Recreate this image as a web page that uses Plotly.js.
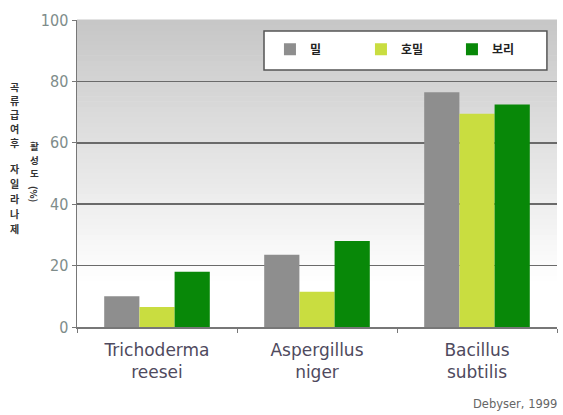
<!DOCTYPE html>
<html>
<head>
<meta charset="utf-8">
<script src="https://cdn.plot.ly/plotly-3.0.1.min.js"></script>
<style>
  html, body { margin: 0; padding: 0; background: #ffffff; }
  #chart { width: 563px; height: 415px; }
</style>
</head>
<body>
<div id="chart"></div>
<script>
// Xylanase activity after grain feeding, by microorganism
const organisms = ['Trichoderma<br>reesei', 'Aspergillus<br>niger', 'Bacillus<br>subtilis'];
const seriesNames = ['밀', '호밀', '보리'];
const wheatValues = [10, 23.5, 76.5];
const ryeValues = [6.5, 11.5, 69.5];
const barleyValues = [18, 28, 72.5];
const yTicks = [0, 20, 40, 60, 80, 100];
const seriesColors = ['#8e8e8e', '#c9dd40', '#088808'];
const titleLineA = ['곡', '류', '급', '여', '후'];
const titleLineB = ['자', '일', '라', '나', '제'];
const titleLineC = ['활', '성', '도'];

const values = [wheatValues, ryeValues, barleyValues];
const traces = seriesNames.map((name, i) => ({
  type: 'bar',
  name: name,
  x: organisms,
  y: values[i],
  marker: { color: seriesColors[i], line: { width: 0 } },
  hoverinfo: 'skip'
}));

// Vertical grey-to-white wash behind the plot area, built from thin bands
const shapes = [];
const bands = 60;
for (let k = 0; k < bands; k++) {
  const y0 = k / bands, y1 = (k + 1) / bands;
  const mid = (y0 + y1) / 2;
  let t = (mid - 0.15) / (1 - 0.15);
  t = Math.max(0, Math.min(1, t));
  const v = Math.round(255 - t * (255 - 198));
  shapes.push({
    type: 'rect', xref: 'x domain', yref: 'y domain',
    x0: 0, x1: 1, y0: y0, y1: y1 + 0.002,
    fillcolor: `rgb(${v},${v},${v})`, line: { width: 0 }, layer: 'below'
  });
}
// Framed white panel that holds the legend entries
shapes.push({
  type: 'rect', xref: 'paper', yref: 'paper',
  x0: 0.3896, x1: 0.979, y0: 0.837, y1: 0.964,
  fillcolor: '#ffffff', line: { color: '#555555', width: 1.5 }, layer: 'above'
});

// Upright Korean axis title: one glyph per annotation, stacked in columns
const W = 563, H = 415, ML = 77, MT = 20, PW = 480, PH = 307;
const px2x = (px) => (px - ML) / PW;
const py2y = (py) => (MT + PH - py) / PH;
const glyph = (ch, px, py, size, extra) => Object.assign({
  xref: 'paper', yref: 'paper', x: px2x(px), y: py2y(py),
  xanchor: 'center', yanchor: 'middle', showarrow: false,
  text: ch,
  font: { family: 'Noto Sans CJK KR', size: size, color: '#333333', weight: 'bold' }
}, extra || {});

const annotations = [];
titleLineA.forEach((ch, i) => annotations.push(glyph(ch, 14, 86 + 14 * i, 10)));
titleLineB.forEach((ch, i) => annotations.push(glyph(ch, 14, 168 + 15 * i, 10)));
titleLineC.forEach((ch, i) => annotations.push(glyph(ch, 34, 146 + 13.5 * i, 9.5)));
annotations.push(glyph('(%)', 34, 194, 9.5, { textangle: 90 }));
annotations.push({
  xref: 'paper', yref: 'paper', x: 1.005, y: -0.251,
  xanchor: 'right', yanchor: 'middle', showarrow: false,
  text: 'Debyser, 1999',
  font: { family: 'DejaVu Sans', size: 11.5, color: '#666666' }
});

const layout = {
  width: W,
  height: H,
  margin: { l: ML, r: W - ML - PW, t: MT, b: H - MT - PH },
  paper_bgcolor: '#ffffff',
  plot_bgcolor: 'rgba(0,0,0,0)',
  barmode: 'group',
  bargap: 0.34,
  bargroupgap: 0,
  showlegend: true,
  legend: {
    orientation: 'h',
    x: 0.402, y: 0.952, xanchor: 'left', yanchor: 'top',
    bgcolor: 'rgba(0,0,0,0)',
    borderwidth: 0,
    entrywidth: 46,
    traceorder: 'normal',
    font: { family: 'Noto Sans CJK KR', size: 12, color: '#222222', weight: 'bold' },
    itemclick: false
  },
  xaxis: {
    type: 'category',
    tickson: 'boundaries',
    ticks: 'outside',
    ticklen: 4,
    tickcolor: '#777777',
    showline: true,
    linecolor: '#777777',
    linewidth: 1.5,
    showgrid: false,
    ticklabelstandoff: 7,
    tickfont: { family: 'DejaVu Sans', size: 17, color: '#4f4a5e' },
    fixedrange: true
  },
  yaxis: {
    range: [0, 100],
    tickvals: yTicks,
    ticks: 'outside',
    ticklen: 4,
    tickcolor: '#777777',
    showline: true,
    linecolor: '#777777',
    linewidth: 1.5,
    showgrid: true,
    gridcolor: '#6a6a6a',
    gridwidth: 1.5,
    zeroline: false,
    tickfont: { family: 'DejaVu Sans Condensed', size: 16, color: '#7e8c8a' },
    fixedrange: true
  },
  shapes: shapes,
  annotations: annotations
};

Plotly.newPlot('chart', traces, layout, { displayModeBar: false, staticPlot: true });
</script>
</body>
</html>
